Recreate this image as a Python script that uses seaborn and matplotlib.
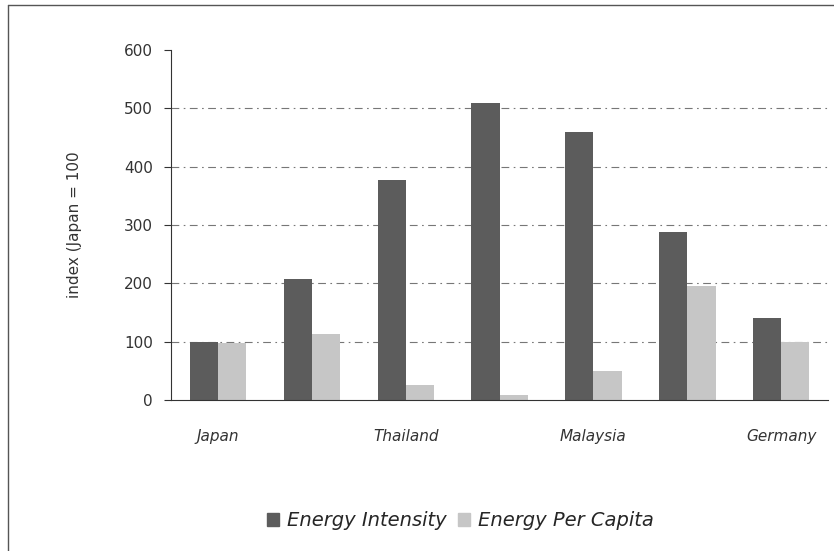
import numpy as np
import pandas as pd
import seaborn as sns
import matplotlib.pyplot as plt
from matplotlib.lines import Line2D
from matplotlib.ticker import FixedLocator

sns.set_style("white")
plt.rcParams["font.family"] = ["DejaVu Sans"]

# data
countries = ["Japan", "c2", "Thailand", "c4", "Malaysia", "c6", "Germany"]
tick_labels = ["Japan", "", "Thailand", "", "Malaysia", "", "Germany"]
energy_intensity = [99, 207, 377, 510, 459, 288, 140]
energy_per_capita = [98, 114, 26, 8, 49, 196, 99]
series = ["Energy Intensity", "Energy Per Capita"]

df = pd.DataFrame({
    "country": countries * 2,
    "series": [series[0]] * len(countries) + [series[1]] * len(countries),
    "value": energy_intensity + energy_per_capita,
})

palette = {"Energy Intensity": "#5c5c5c", "Energy Per Capita": "#c6c6c6"}

fig = plt.figure(figsize=(8.34, 5.51), dpi=100)
ax = fig.add_axes([0.205, 0.274, 0.788, 0.635])

sns.barplot(data=df, x="country", y="value", hue="series", order=countries,
            hue_order=series, palette=palette, width=0.6, gap=0,
            saturation=1, linewidth=0, ax=ax, legend=False)

ax.set_ylim(0, 600)
ax.set_xlim(-0.5, len(countries) - 0.5)
ax.set_yticks(range(0, 601, 100))
ax.set_yticklabels([str(v) for v in range(0, 601, 100)], fontsize=11, color="#333333")

# dash-dot grid, none on the top value
for yv in range(100, 600, 100):
    ax.axhline(yv, color="#777777", lw=0.8, ls=(0, (7, 4, 1.5, 4)), zorder=0)

ax.set_xticks(range(len(countries)))
ax.set_xticklabels(tick_labels, fontsize=11, style="italic", color="#333333")
ax.tick_params(axis="x", which="major", length=0, pad=21)
ax.xaxis.set_minor_locator(FixedLocator(np.arange(-0.5, len(countries), 1.0)))
ax.tick_params(axis="x", which="minor", length=5, direction="out", color="#333333")
ax.tick_params(axis="y", length=5, direction="out", color="#333333", pad=8, left=True)

ax.set_xlabel("")
ax.set_ylabel("index (Japan = 100", fontsize=11, color="#333333", labelpad=30)

for s in ["top", "right"]:
    ax.spines[s].set_visible(False)
ax.spines["left"].set_color("#333333")
ax.spines["bottom"].set_color("#333333")

handles = [plt.Rectangle((0, 0), 1, 1, color=palette[s]) for s in series]
fig.legend(handles, series, loc="center", bbox_to_anchor=(0.552, 0.055),
           ncol=2, frameon=False, handlelength=0.6, handleheight=0.6,
           handletextpad=0.4, columnspacing=0.6, prop={"size": 14, "style": "italic"})

# outer frame (left and top edges)
fig.add_artist(Line2D([0.009, 0.009], [0.0, 0.991], transform=fig.transFigure, color="#555555", lw=1))
fig.add_artist(Line2D([0.009, 1.0], [0.991, 0.991], transform=fig.transFigure, color="#555555", lw=1))

fig.savefig("out.png", dpi=100)
